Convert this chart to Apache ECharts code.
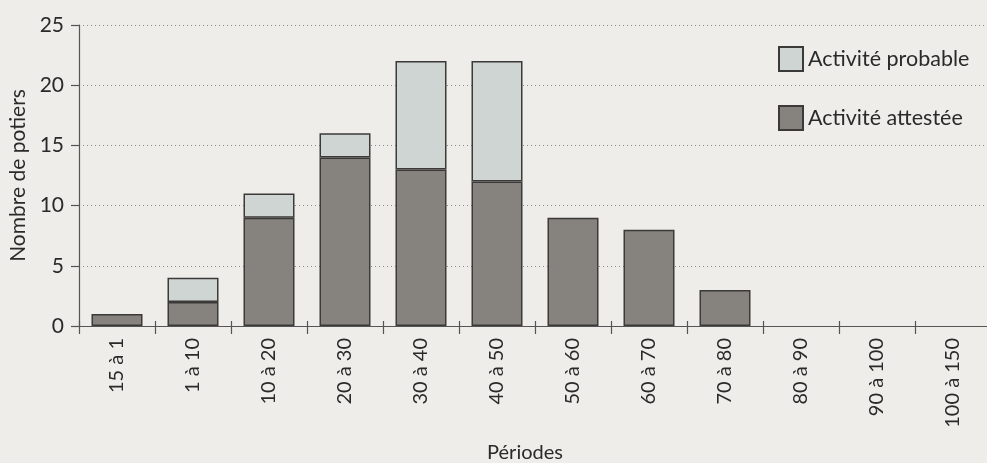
<!DOCTYPE html>
<html>
<head>
<meta charset="utf-8">
<script src="https://cdn.jsdelivr.net/npm/echarts@6/dist/echarts.min.js"></script>
<style>
  html, body { margin: 0; padding: 0; background: #eeede9; }
  #chart { width: 987px; height: 463px; }
</style>
</head>
<body>
<div id="chart"></div>
<script>
// Periods (categories on the x axis)
const periodes = ['15 à 1', '1 à 10', '10 à 20', '20 à 30', '30 à 40', '40 à 50',
                  '50 à 60', '60 à 70', '70 à 80', '80 à 90', '90 à 100', '100 à 150'];
// Number of potters with attested activity
const activiteAttestee = [1, 2, 9, 14, 13, 12, 9, 8, 3, 0, 0, 0];
// Additional potters with probable activity (stacked on top)
const activiteProbable = [0, 2, 2, 2, 9, 10, 0, 0, 0, 0, 0, 0];
// Y axis ticks
const yTicks = [0, 5, 10, 15, 20, 25];

const FONT = 'Lato, "Open Sans", sans-serif';
const TEXT = '#2a2a2a';
const chart = echarts.init(document.getElementById('chart'), null, { renderer: 'canvas' });

const barBorder = { borderColor: '#3b3a38', borderWidth: 1.5 };
// empty segments are left out so they draw no outline
const skipZero = arr => arr.map(v => (v === 0 ? null : v));

chart.setOption({
  backgroundColor: '#eeede9',
  animation: false,
  textStyle: { fontFamily: FONT },
  grid: { left: 79, top: 25, width: 912, height: 301, outerBoundsMode: 'none', containLabel: false },
  legend: {
    orient: 'vertical',
    left: 773,
    top: 41,
    itemWidth: 24,
    itemHeight: 24,
    itemGap: 33,
    icon: 'rect',
    textStyle: { fontFamily: FONT, fontSize: 21.5, color: TEXT, padding: [0, 0, 0, 0] },
    data: ['Activité probable', 'Activité attestée']
  },
  xAxis: [{
    type: 'category',
    data: periodes,
    name: 'Périodes',
    nameLocation: 'middle',
    nameGap: 117,
    nameTextStyle: { fontFamily: FONT, fontSize: 20, color: TEXT, padding: [0, 20, 0, 0] },
    axisLine: { lineStyle: { color: '#555', width: 1.2 } },
    axisTick: { show: true, length: 8, lineStyle: { color: '#555', width: 1.2 } },
    axisLabel: { rotate: 90, fontFamily: FONT, fontSize: 20, color: TEXT, margin: 12 }
  }, {
    // short inner tick marks so the boundaries cross the axis line
    type: 'category',
    data: periodes,
    position: 'bottom',
    axisLine: { show: false },
    axisTick: { show: true, inside: true, length: 5, lineStyle: { color: '#555', width: 1.2 } },
    axisLabel: { show: false }
  }],
  yAxis: {
    type: 'value',
    min: yTicks[0],
    max: yTicks[yTicks.length - 1],
    interval: 5,
    name: 'Nombre de potiers',
    nameLocation: 'middle',
    nameGap: 43,
    nameTextStyle: { fontFamily: FONT, fontSize: 21, color: TEXT },
    axisLine: { show: true, lineStyle: { color: '#555', width: 1.2 } },
    axisTick: { show: true, length: 8, lineStyle: { color: '#555', width: 1.2 } },
    axisLabel: { fontFamily: FONT, fontSize: 21, color: TEXT, margin: 15 },
    splitLine: { show: true, lineStyle: { color: '#8c8c8c', type: [1, 3], width: 1 } }
  },
  series: [{
    name: 'Activité attestée',
    type: 'bar',
    stack: 'total',
    barWidth: 51,
    data: skipZero(activiteAttestee),
    itemStyle: Object.assign({ color: '#86837f' }, barBorder)
  }, {
    name: 'Activité probable',
    type: 'bar',
    stack: 'total',
    barWidth: 51,
    data: skipZero(activiteProbable),
    itemStyle: Object.assign({ color: '#cfd5d2' }, barBorder)
  }]
});
</script>
</body>
</html>
